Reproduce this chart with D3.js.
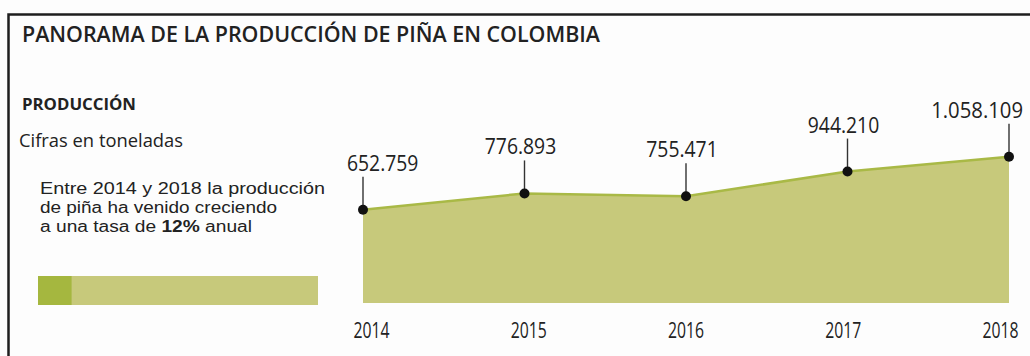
<!DOCTYPE html>
<html>
<head>
<meta charset="utf-8">
<script src="https://cdn.jsdelivr.net/npm/d3@7"></script>
<style>
  body { margin: 0; background: #fff; }
  text { font-family: "Open Sans", "DejaVu Sans Condensed", sans-serif; fill: #222; }
  text.para { font-family: "Liberation Sans", Arial, sans-serif; }
</style>
</head>
<body>
<div id="chart"></div>
<script>
// data
const years = [2014, 2015, 2016, 2017, 2018];
const production = [652759, 776893, 755471, 944210, 1058109];
const growthRate = 12; // % anual

const title = "PANORAMA DE LA PRODUCCIÓN DE PIÑA EN COLOMBIA";
const subTitle = "PRODUCCIÓN";
const unitsNote = "Cifras en toneladas";

/** svg size */
const W = 1030, H = 356;

const svg = d3.select("#chart").append("svg")
  .attr("width", W)
  .attr("height", H);

svg.append("rect").attr("width", W).attr("height", H).attr("fill", "#fdfdfd");

// frame: top rule and left rule
svg.append("path")
  .attr("d", "M8.5," + H + " L8.5,14.5 L" + W + ",14.5")
  .attr("fill", "none")
  .attr("stroke", "#1e1e1e")
  .attr("stroke-width", 2.5);

svg.append("text")
  .attr("x", 22).attr("y", 42)
  .attr("font-size", 22).attr("font-weight", 600)
  .attr("textLength", 578).attr("lengthAdjust", "spacingAndGlyphs")
  .text(title);

svg.append("text")
  .attr("x", 22).attr("y", 110)
  .attr("font-size", 16).attr("font-weight", "bold")
  .attr("textLength", 114).attr("lengthAdjust", "spacingAndGlyphs")
  .text(subTitle);

svg.append("text")
  .attr("x", 19).attr("y", 147)
  .attr("font-size", 18)
  .attr("textLength", 164).attr("lengthAdjust", "spacingAndGlyphs")
  .text(unitsNote);

// paragraph (tighter font so the three lines don't collide)
const para = svg.append("g").attr("font-size", 16);
para.append("text").attr("class", "para").attr("x", 40).attr("y", 194)
  .attr("textLength", 285).attr("lengthAdjust", "spacingAndGlyphs")
  .text("Entre " + years[0] + " y " + years[years.length - 1] + " la producción");
para.append("text").attr("class", "para").attr("x", 40).attr("y", 213)
  .attr("textLength", 237).attr("lengthAdjust", "spacingAndGlyphs")
  .text("de piña ha venido creciendo");
const l3 = para.append("text").attr("class", "para").attr("x", 40).attr("y", 232)
  .attr("textLength", 212).attr("lengthAdjust", "spacingAndGlyphs");
l3.append("tspan").text("a una tasa de ");
l3.append("tspan").attr("font-weight", "bold").text(growthRate + "%");
l3.append("tspan").text(" anual");

// growth bar
const barScale = d3.scaleLinear().domain([0, 100]).range([38, 318]);
svg.append("rect")
  .attr("x", barScale(0)).attr("y", 276)
  .attr("width", barScale(100) - barScale(0)).attr("height", 29)
  .attr("fill", "#c7c97b");
svg.append("rect")
  .attr("x", barScale(0)).attr("y", 276)
  .attr("width", barScale(growthRate) - barScale(0)).attr("height", 29)
  .attr("fill", "#a5b73f");

// area chart
const x = d3.scalePoint().domain(years).range([363, 1009]);
const y = d3.scaleLinear().domain([0, 1100000]).range([295, 151.2]);
const plotBottom = 303;

const pts = years.map((yr, i) => ({ year: yr, value: production[i] }));

const area = d3.area()
  .x(d => x(d.year))
  .y0(plotBottom)
  .y1(d => y(d.value));

const line = d3.line()
  .x(d => x(d.year))
  .y(d => y(d.value));

svg.append("path")
  .datum(pts)
  .attr("d", area)
  .attr("fill", "#c7c97b");

svg.append("path")
  .datum(pts)
  .attr("d", line)
  .attr("fill", "none")
  .attr("stroke", "#a9b946")
  .attr("stroke-width", 2.5);

const fmt = d3.formatLocale({ decimal: ",", thousands: ".", grouping: [3], currency: ["$", ""] }).format(",d");

const labelLift = 39;
const n = pts.length;

const marks = svg.append("g").selectAll("g")
  .data(pts)
  .enter()
  .append("g");

marks.append("line")
  .attr("x1", d => x(d.year)).attr("x2", d => x(d.year))
  .attr("y1", d => y(d.value) - labelLift + 6)
  .attr("y2", d => y(d.value))
  .attr("stroke", "#333")
  .attr("stroke-width", 1.4);

marks.append("circle")
  .attr("cx", d => x(d.year))
  .attr("cy", d => y(d.value))
  .attr("r", 5)
  .attr("fill", "#111");

marks.append("text")
  .attr("x", (d, i) => i === 0 ? x(d.year) - 16 : i === n - 1 ? x(d.year) + 14 : x(d.year) - 4)
  .attr("y", d => y(d.value) - labelLift)
  .attr("text-anchor", (d, i) => i === 0 ? "start" : i === n - 1 ? "end" : "middle")
  .attr("font-size", 21)
  .attr("textLength", d => fmt(d.value).length * 10.2)
  .attr("lengthAdjust", "spacingAndGlyphs")
  .text(d => fmt(d.value));

// year axis, labels sit slightly inside the end points
const xLab = d3.scalePoint().domain(years).range([371, 1000]);
const axis = svg.append("g")
  .attr("transform", "translate(0," + 322 + ")")
  .call(d3.axisBottom(xLab).tickSize(0).tickPadding(0));
axis.select(".domain").remove();
axis.selectAll("text")
  .attr("font-size", 21)
  .attr("dy", "0.75em")
  .attr("textLength", 36).attr("lengthAdjust", "spacingAndGlyphs")
  .style("font-family", "\"Open Sans\", \"DejaVu Sans Condensed\", sans-serif")
  .attr("fill", "#222");
</script>
</body>
</html>
